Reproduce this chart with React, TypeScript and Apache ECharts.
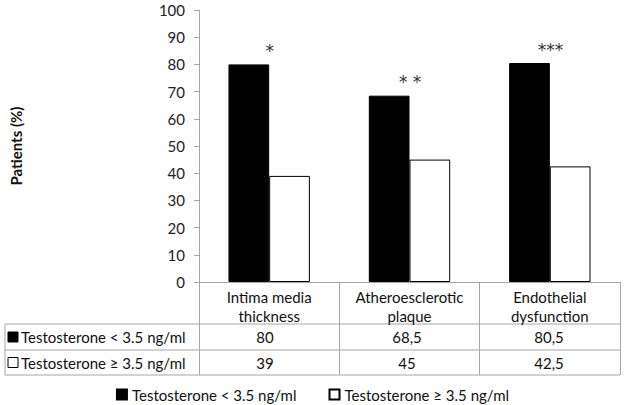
import React, { useEffect, useRef } from 'react';
import * as echarts from 'echarts';

const categories = ['Intima media\nthickness', 'Atheroesclerotic\nplaque', 'Endothelial\ndysfunction'];
const seriesNames = ['Testosterone < 3.5 ng/ml', 'Testosterone ≥ 3.5 ng/ml'];
const lowT = [80, 68.5, 80.5];
const normalT = [39, 45, 42.5];
const significance = ['*', '* *', '***'];
const yMin = 0;
const yMax = 100;
const yInterval = 10;

const FONT = 'Lato, "Open Sans", sans-serif';
const W = 625;
const H = 405;
const GRID_LEFT = 194;
const GRID_RIGHT = 5;
const GRID_TOP = 10;
const AXIS_Y = 282;
const ROW_LINES = [324, 350, 375];
const TABLE_LEFT = 5;
const LINE_COLOR = '#a6a6a6';

const fmt = (v: number) => String(v).replace('.', ',');

export default function App() {
  const ref = useRef<HTMLDivElement>(null);
  useEffect(() => {
    document.body.style.margin = '0';
    if (!ref.current) return;
    const chart = echarts.init(ref.current, undefined, { renderer: 'svg' });
    const gridWidth = W - GRID_LEFT - GRID_RIGHT;
    const colW = gridWidth / categories.length;
    const tableRight = W - GRID_RIGHT;
    const rows = [
      { name: seriesNames[0], values: lowT, fill: '#000' },
      { name: seriesNames[1], values: normalT, fill: '#fff' },
    ];
    const graphics: any[] = [];
    ROW_LINES.forEach((y) => {
      graphics.push({
        type: 'line',
        shape: { x1: TABLE_LEFT, y1: y, x2: tableRight, y2: y },
        style: { stroke: LINE_COLOR, lineWidth: 1 },
      });
    });
    graphics.push({
      type: 'line',
      shape: { x1: TABLE_LEFT, y1: ROW_LINES[0], x2: TABLE_LEFT, y2: ROW_LINES[2] },
      style: { stroke: LINE_COLOR, lineWidth: 1 },
    });
    rows.forEach((r, ri) => {
      const cy = (ROW_LINES[ri] + ROW_LINES[ri + 1]) / 2;
      graphics.push({
        type: 'rect',
        shape: { x: 8, y: cy - 5, width: 10, height: 10 },
        style: { fill: r.fill, stroke: '#000', lineWidth: 1 },
      });
      graphics.push({
        type: 'text',
        x: 21,
        y: cy,
        style: { text: r.name, font: `15px ${FONT}`, fill: '#111', textVerticalAlign: 'middle', textAlign: 'left' },
      });
      r.values.forEach((v, ci) => {
        graphics.push({
          type: 'text',
          x: GRID_LEFT + colW * (ci + 0.5),
          y: cy,
          style: { text: fmt(v), font: `15px ${FONT}`, fill: '#111', textAlign: 'center', textVerticalAlign: 'middle' },
        });
      });
    });

    chart.setOption({
      animation: false,
      textStyle: { fontFamily: FONT },
      grid: { left: GRID_LEFT, right: GRID_RIGHT, top: GRID_TOP, bottom: H - AXIS_Y, containLabel: false },
      legend: {
        data: seriesNames,
        top: 385,
        left: 'center',
        icon: 'rect',
        itemWidth: 10,
        itemHeight: 10,
        itemGap: 32,
        padding: 2,
        textStyle: { fontSize: 15, color: '#111', fontFamily: FONT },
      },
      xAxis: {
        type: 'category',
        data: categories,
        axisLine: { lineStyle: { color: LINE_COLOR } },
        axisTick: { show: true, length: ROW_LINES[2] - AXIS_Y, lineStyle: { color: LINE_COLOR } },
        axisLabel: { fontSize: 15, color: '#111', lineHeight: 19, margin: 5, interval: 0, fontFamily: FONT },
      },
      yAxis: {
        type: 'value',
        min: yMin,
        max: yMax,
        interval: yInterval,
        name: 'Patients (%)',
        nameLocation: 'middle',
        nameRotate: 90,
        nameGap: 176,
        nameTextStyle: { fontSize: 15, fontWeight: 'bold', color: '#111', fontFamily: FONT },
        axisLine: { show: true, lineStyle: { color: LINE_COLOR } },
        axisTick: { show: true, length: 5, lineStyle: { color: LINE_COLOR } },
        axisLabel: { fontSize: 15, color: '#222', margin: 14, fontFamily: FONT },
        splitLine: { show: false },
      },
      series: [
        {
          name: seriesNames[0],
          type: 'bar',
          data: lowT,
          barGap: '0%',
          barCategoryGap: '42%',
          itemStyle: { color: '#000', borderColor: '#000', borderWidth: 1 },
          label: {
            show: true,
            position: 'top',
            offset: [21, 0],
            formatter: (p: any) => significance[p.dataIndex],
            fontSize: 17,
            color: '#333',
            fontFamily: '"DejaVu Sans", sans-serif',
          },
        },
        {
          name: seriesNames[1],
          type: 'bar',
          data: normalT,
          barGap: '0%',
          barCategoryGap: '42%',
          itemStyle: { color: '#fff', borderColor: '#000', borderWidth: 1 },
        },
      ],
      graphic: graphics,
    });
    return () => chart.dispose();
  }, []);
  return <div ref={ref} style={{ width: W, height: H }} />;
}
